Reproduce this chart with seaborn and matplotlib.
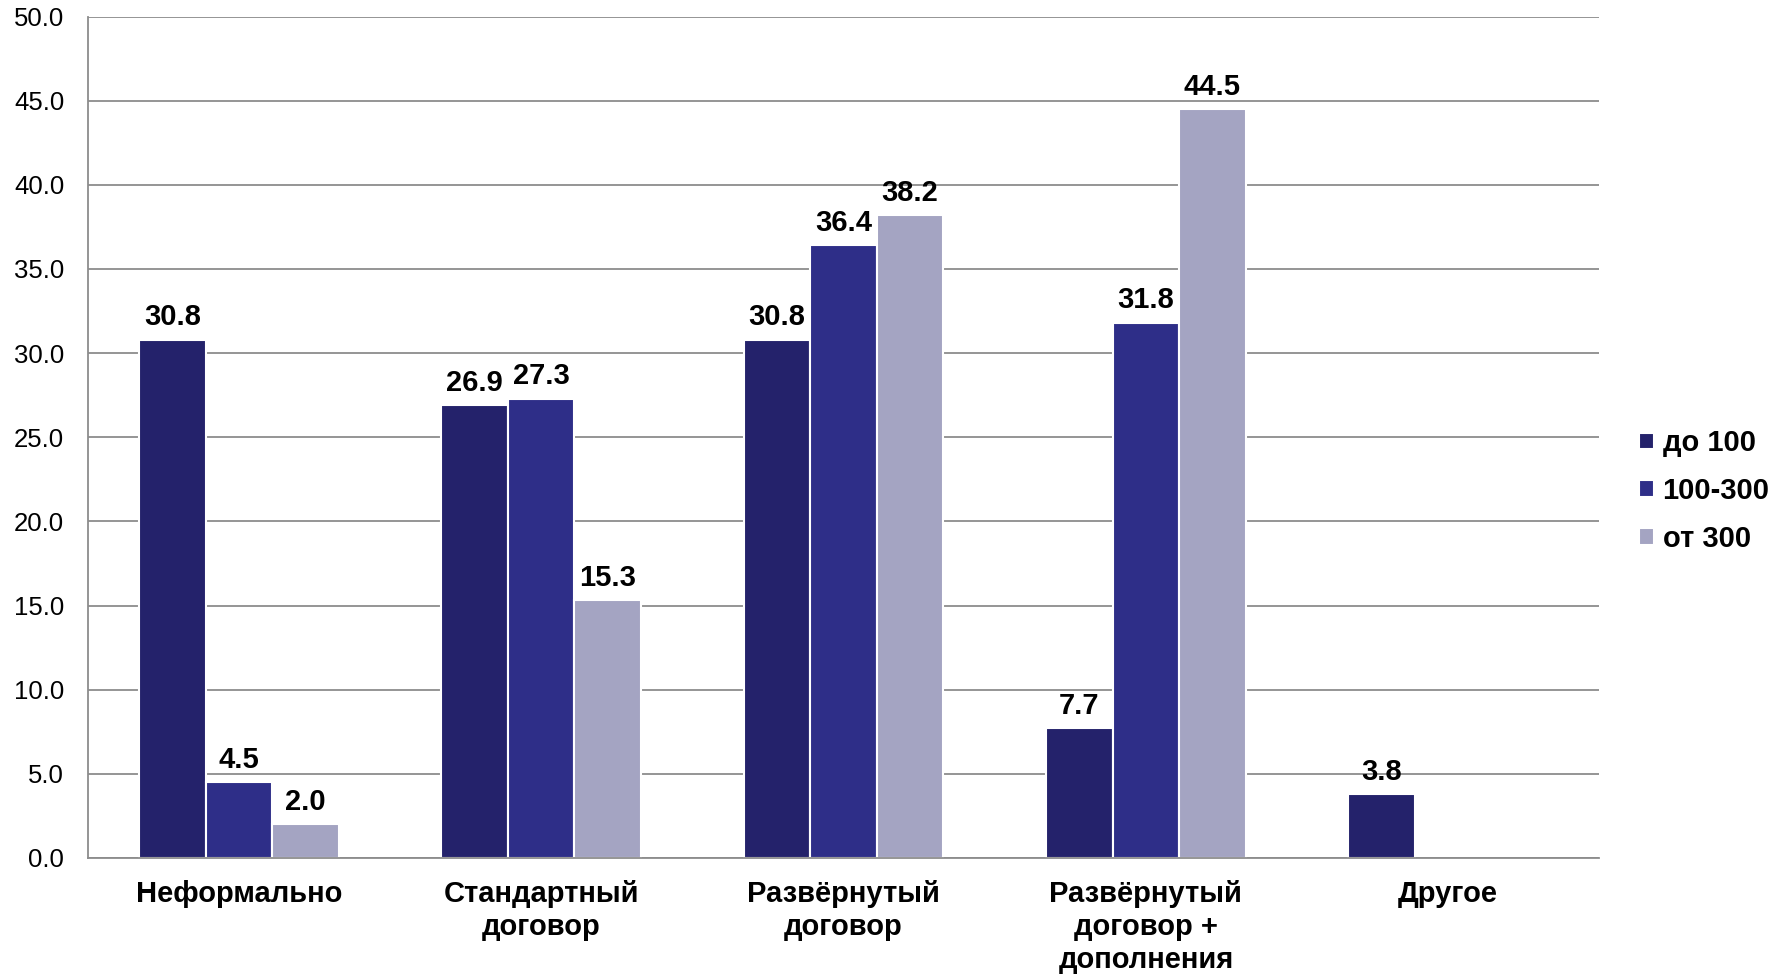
import numpy as np
import pandas as pd
import matplotlib
matplotlib.use("Agg")
import matplotlib.pyplot as plt
import seaborn as sns

# ── Данные ────────────────────────────────────────────────
categories = ["Неформально", "Стандартный\nдоговор", "Развёрнутый\nдоговор",
              "Развёрнутый\nдоговор +\nдополнения", "Другое"]
series = ["до 100", "100-300", "от 300"]
vals_do100 = [30.8, 26.9, 30.8, 7.7, 3.8]
vals_100_300 = [4.5, 27.3, 36.4, 31.8, np.nan]
vals_ot300 = [2.0, 15.3, 38.2, 44.5, np.nan]
colors = ["#24226B", "#2E2E88", "#A4A4C2"]

df = pd.DataFrame({
    "cat": categories * 3,
    "series": np.repeat(series, len(categories)),
    "value": vals_do100 + vals_100_300 + vals_ot300,
})

sns.set_style("white")
plt.rcParams["font.family"] = ["Liberation Sans", "DejaVu Sans"]
plt.rcParams["text.color"] = "black"
plt.rcParams["xtick.color"] = "black"
plt.rcParams["ytick.color"] = "black"

fig = plt.figure(figsize=(17.91, 9.76), dpi=100)
ax = fig.add_axes([0.049, 0.121, 0.844, 0.862])

sns.barplot(data=df, x="cat", y="value", hue="series", hue_order=series,
            order=categories, palette=colors, saturation=1, width=0.66, gap=0,
            edgecolor="white", linewidth=1.5, ax=ax, legend=True)

# подписи значений
for cont in ax.containers:
    labels = ["" if np.isnan(v) else f"{v:.1f}" for v in cont.datavalues]
    ax.bar_label(cont, labels=labels, padding=6, fontsize=21, fontweight="bold")

ax.set_ylim(0, 50)
ax.set_xlim(-0.5, len(categories) - 0.5)
ax.set_yticks(np.arange(0, 50.1, 5))
ax.set_yticklabels([f"{t:.1f}" for t in np.arange(0, 50.1, 5)], fontsize=18.5)
ax.yaxis.grid(True, color="#8C8C8C", linewidth=1.3)
ax.set_axisbelow(True)

ax.set_xticks(np.arange(len(categories)))
ax.set_xticklabels(categories, fontsize=21, fontweight="bold", linespacing=1.22)
ax.tick_params(axis="x", length=0, pad=16)
ax.set_xticks(np.arange(-0.5, len(categories)), minor=True)
ax.tick_params(axis="x", which="minor", length=6, width=1.3, color="#8C8C8C")
ax.tick_params(axis="y", length=6, width=1.3, color="#8C8C8C", labelcolor="black", pad=11)
ax.set_xlabel("")
ax.set_ylabel("")

for s in ["top", "right"]:
    ax.spines[s].set_visible(False)
for s in ["left", "bottom"]:
    ax.spines[s].set_color("#8C8C8C")
    ax.spines[s].set_linewidth(1.3)

ax.legend(loc="center left", bbox_to_anchor=(1.009, 0.436), frameon=False,
          prop={"size": 21, "weight": "bold"}, handlelength=0.5, handleheight=0.5,
          handletextpad=0.3, labelspacing=0.68)

fig.savefig("out.png", dpi=100)
